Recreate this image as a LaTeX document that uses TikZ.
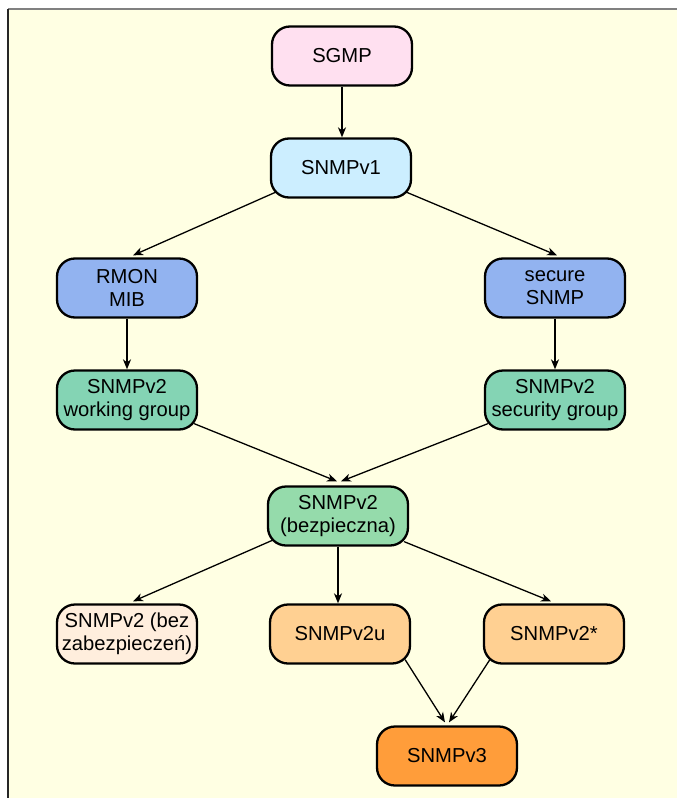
\documentclass[tikz,border=0pt]{standalone}
\usepackage{fontspec}
\setmainfont{Liberation Sans}
\usetikzlibrary{arrows.meta,calc}

\definecolor{bgyellow}{HTML}{FFFFE3}
\definecolor{cpink}{HTML}{FFE0F0}
\definecolor{cblue}{HTML}{CCEEFF}
\definecolor{cmid}{HTML}{92B3F0}
\definecolor{cgreen}{HTML}{84D4B4}
\definecolor{cgreenb}{HTML}{95DBAB}
\definecolor{cpale}{HTML}{FFEEDD}
\definecolor{capri}{HTML}{FFD092}
\definecolor{corange}{HTML}{FF9D3A}

\tikzset{
  box/.style={draw=black, line width=2.3pt, rounded corners=18pt,
    minimum width=140pt, minimum height=59pt, inner sep=1pt,
    align=center, font=\fontsize{20.2}{23}\selectfont},
  arr/.style={line width=1.3pt, -{Stealth[length=10pt,width=8pt,inset=3pt]}}
}

\begin{document}
\begin{tikzpicture}[x=1pt,y=-1pt]
  \useasboundingbox (0,0) rectangle (677,798);
  % page background and frame
  \fill[bgyellow] (8,9) rectangle (677,798);
  \draw[line width=1.6pt, color=black!50] (8,9) -- (677,9);
  \draw[line width=1.6pt, color=black!85] (8,9) -- (8,798);

  % nodes
  \node[box, fill=cpink]   (sgmp)  at (342,56)  {SGMP};
  \node[box, fill=cblue]   (v1)    at (341,168) {SNMPv1};
  \node[box, fill=cmid]    (rmon)  at (127,288) {RMON\\MIB};
  \node[box, fill=cmid]    (sec)   at (555,288) {secure\\SNMP};
  \node[box, fill=cgreen]  (wg)    at (127,400) {SNMPv2\\working group};
  \node[box, fill=cgreen]  (sg)    at (555,400) {SNMPv2\\security group};
  \node[box, fill=cgreenb] (bezp)  at (338,516) {SNMPv2\\(bezpieczna)};
  \node[box, fill=cpale]   (unsec) at (127,634) {SNMPv2 (bez\\zabezpieczeń)};
  \node[box, fill=capri]   (v2u)   at (340,634) {SNMPv2u};
  \node[box, fill=capri]   (v2s)   at (554,634) {SNMPv2*};
  \node[box, fill=corange] (v3)    at (447,756) {SNMPv3};

  % connectors
  \draw[arr] (sgmp.south) -- (sgmp.south |- v1.north);
  \draw[arr] ($(v1.south west)+(7,-7)$) -- ($(rmon.north)+(6,-2)$);
  \draw[arr] ($(v1.south east)+(-7,-7)$) -- ($(sec.north)+(2,-2)$);
  \draw[arr] (rmon.south) -- (wg.north);
  \draw[arr] (sec.south) -- (sg.north);
  \draw[arr] ($(wg.south east)+(-4,-7)$) -- ($(bezp.north)+(-1,-4)$);
  \draw[arr] ($(sg.south west)+(4,-7)$) -- ($(bezp.north)+(3,-4)$);
  \draw[arr] ($(bezp.south west)+(7,-7)$) -- ($(unsec.north)+(6,-2)$);
  \draw[arr] (bezp.south) -- (bezp.south |- v2u.north);
  \draw[arr] ($(bezp.south east)+(-5,-5)$) -- ($(v2s.north)+(-3,-2)$);
  \draw[arr] ($(v2u.south east)+(-6,-5)$) -- ($(v3.north)+(-2,-3)$);
  \draw[arr] ($(v2s.south west)+(7,-5)$) -- ($(v3.north)+(2,-3)$);
\end{tikzpicture}
\end{document}
